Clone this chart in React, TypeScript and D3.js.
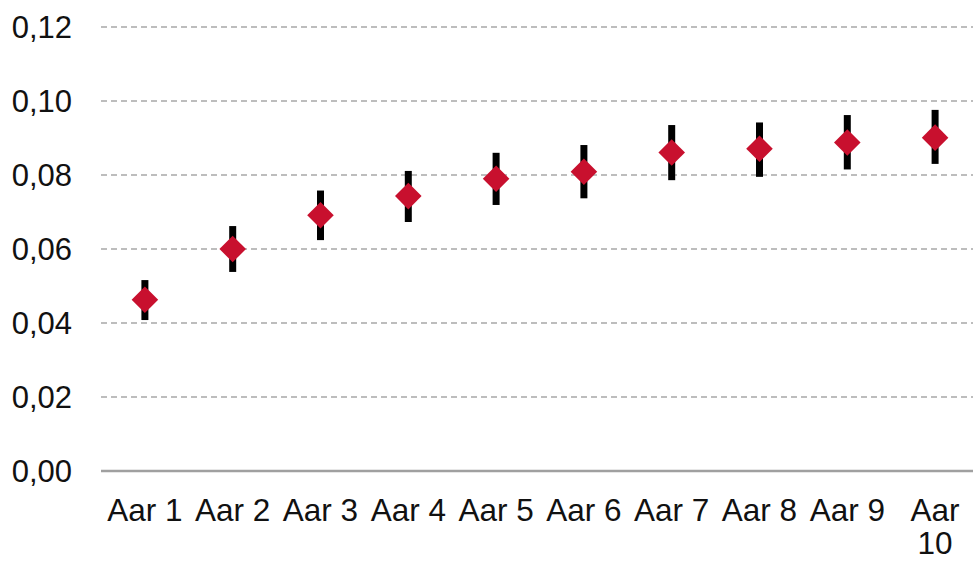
import React, { useEffect, useRef } from 'react';
import * as d3 from 'd3';

// categories + values
const categories = ['Aar 1', 'Aar 2', 'Aar 3', 'Aar 4', 'Aar 5', 'Aar 6', 'Aar 7', 'Aar 8', 'Aar 9', 'Aar 10'];
const means = [0.0463, 0.0600, 0.0691, 0.0743, 0.0790, 0.0809, 0.0861, 0.0871, 0.0888, 0.0901];
const upper = [0.0516, 0.0662, 0.0758, 0.0811, 0.0860, 0.0881, 0.0935, 0.0942, 0.0962, 0.0976];
const lower = [0.0408, 0.0538, 0.0624, 0.0673, 0.0719, 0.0737, 0.0786, 0.0795, 0.0815, 0.0830];
const yTicks = [0, 0.02, 0.04, 0.06, 0.08, 0.10, 0.12];

const width = 973;
const height = 561;
const margin = { left: 101, right: -6, top: 27, bottom: 90 };
const font = 'Liberation Sans, Arial, sans-serif';

function wrap(sel: d3.Selection<SVGTextElement, unknown, any, any>, maxWidth: number) {
    sel.each(function () {
        const text = d3.select(this);
        const words = text.text().split(' ');
        const x = text.attr('x');
        const y = text.attr('y');
        if ((this as SVGTextElement).getComputedTextLength() <= maxWidth) return;
        text.text(null);
        words.forEach((w, i) => {
            text.append('tspan')
                .attr('x', x)
                .attr('y', y)
                .attr('dy', i * 33)
                .text(w);
        });
    });
}

export default function App() {
    const ref = useRef<SVGSVGElement>(null);

    useEffect(() => {
        const svg = d3.select(ref.current);
        svg.selectAll('*').remove();

        const x = d3.scaleBand()
            .domain(categories)
            .range([margin.left, width - margin.right]);

        const y = d3.scaleLinear()
            .domain([0, 0.12])
            .range([height - margin.bottom, margin.top]);

        // gridlines
        svg.append('g')
            .selectAll('line')
            .data(yTicks.filter(t => t > 0))
            .join('line')
            .attr('x1', margin.left)
            .attr('x2', width)
            .attr('y1', d => y(d))
            .attr('y2', d => y(d))
            .attr('stroke', '#a8a8a8')
            .attr('stroke-width', 1.3)
            .attr('stroke-dasharray', '6,4');

        // baseline
        svg.append('line')
            .attr('x1', margin.left)
            .attr('x2', width)
            .attr('y1', y(0))
            .attr('y2', y(0))
            .attr('stroke', '#a0a0a0')
            .attr('stroke-width', 2.5);

        // y labels
        svg.append('g')
            .selectAll('text')
            .data(yTicks)
            .join('text')
            .attr('x', 72)
            .attr('y', d => y(d))
            .attr('dy', '0.35em')
            .attr('text-anchor', 'end')
            .style('font-family', font)
            .style('font-size', '31px')
            .attr('fill', '#111')
            .text(d => d3.format('.2f')(d).replace('.', ','));

        // x labels
        svg.append('g')
            .selectAll('text')
            .data(categories)
            .join('text')
            .attr('x', d => x(d)! + x.bandwidth() / 2)
            .attr('y', 521)
            .attr('text-anchor', 'middle')
            .style('font-family', font)
            .style('font-size', '31.5px')
            .attr('fill', '#111')
            .text(d => d)
            .call(wrap as any, x.bandwidth() - 4);

        const cx = (i: number) => x(categories[i])! + x.bandwidth() / 2;

        // error bars
        svg.append('g')
            .selectAll('line')
            .data(means)
            .join('line')
            .attr('x1', (d, i) => cx(i))
            .attr('x2', (d, i) => cx(i))
            .attr('y1', (d, i) => y(upper[i]))
            .attr('y2', (d, i) => y(lower[i]))
            .attr('stroke', '#000')
            .attr('stroke-width', 7);

        // diamonds
        const diamond = d3.symbol().type(d3.symbolDiamond2).size(450);
        svg.append('g')
            .selectAll('path')
            .data(means)
            .join('path')
            .attr('d', diamond)
            .attr('transform', (d, i) => `translate(${cx(i)},${y(d)})`)
            .attr('fill', '#c8102e');
    }, []);

    return (
        <svg
            ref={ref}
            width={width}
            height={height}
            style={{ position: 'absolute', left: 0, top: 0, background: '#fff' }}
        />
    );
}
